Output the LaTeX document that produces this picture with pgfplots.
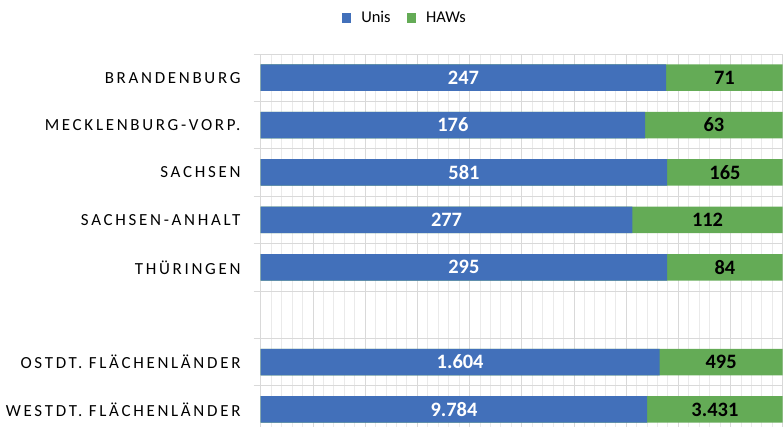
\documentclass[border=0pt]{standalone}
\usepackage{fontspec}
\setmainfont{Carlito}
\newfontfamily\labfont[LetterSpace=16]{Carlito}
\usepackage{pgfplots}
\usepackage{pgfplotstable}
\pgfplotsset{compat=1.18}
\definecolor{cblue}{HTML}{4270BA}
\definecolor{cgreen}{HTML}{64AB56}
\definecolor{gmaj}{HTML}{D9D9D9}
\definecolor{gmin}{HTML}{EAEAEA}
\pgfplotstableread{
y u h ul hl
0 247 71 247 71
1 176 63 176 63
2 581 165 581 165
3 277 112 277 112
4 295 84 295 84
6 1604 495 1.604 495
7 9784 3431 9.784 3.431
}\data
\begin{document}
\begin{tikzpicture}
\begin{axis}[
  at={(260.7bp,373bp)}, anchor=north west,
  scale only axis, width=522bp, height=379.2bp,
  xmin=0, xmax=1, ymin=-0.5, ymax=7.5, y dir=reverse,
  axis lines*=left, axis line style={draw=none},
  xtick={0,0.1,...,1}, minor x tick num=4, xticklabels={},
  xmajorgrids, xminorgrids,
  major x grid style={draw=gmaj, line width=0.8pt},
  minor x grid style={draw=gmin, line width=0.8pt},
  x tick style={draw=none},
  ytick={0,1,2,3,4,6,7},
  yticklabels={BRANDENBURG,MECKLENBURG-VORP.,SACHSEN,SACHSEN-ANHALT,TH\"URINGEN,OSTDT. FL\"ACHENL\"ANDER,WESTDT. FL\"ACHENL\"ANDER},
  yticklabel style={font=\labfont\fontsize{17}{20}\selectfont, anchor=east, inner sep=0pt, xshift=-20bp},
  minor ytick={-0.5,0.5,...,7.5}, yminorgrids,
  minor y grid style={draw=gmaj, line width=0.8pt},
  tick align=outside, major tick length=0pt, minor tick length=7bp,
  y tick style={draw=gmaj, line width=0.8pt},
  clip=false,
  legend columns=2,
  legend style={at={(0.276,1.095)}, anchor=center, draw=none, fill=none,
    font=\fontsize{16.5}{19}\selectfont, column sep=8bp,
    /tikz/every even column/.append style={column sep=14bp}},
  legend image code/.code={\fill[#1] (0bp,-4.7bp) rectangle (9.5bp,4.7bp);},
]
\addlegendimage{fill=cblue, draw=none}
\addlegendentry{Unis}
\addlegendimage{fill=cgreen, draw=none}
\addlegendentry{HAWs}
\addplot[xbar, bar width=26.5bp, bar shift=0pt, fill=cgreen, draw=none, forget plot]
  table[x expr={(\thisrow{u}+\thisrow{h})/(\thisrow{u}+\thisrow{h})}, y=y]{\data};
\addplot[xbar, bar width=26.5bp, bar shift=0pt, fill=cblue, draw=none, forget plot]
  table[x expr={\thisrow{u}/(\thisrow{u}+\thisrow{h})}, y=y]{\data};
\addplot[draw=none, mark=none, forget plot, nodes near coords, point meta=explicit symbolic,
  every node near coord/.append style={anchor=center, text=white, font=\bfseries\fontsize{20.5}{24}\selectfont}]
  table[x expr={0.5*\thisrow{u}/(\thisrow{u}+\thisrow{h})}, y=y, meta=ul]{\data};
\addplot[draw=none, mark=none, forget plot, nodes near coords, point meta=explicit symbolic,
  every node near coord/.append style={anchor=center, text=black, font=\bfseries\fontsize{20.5}{24}\selectfont}]
  table[x expr={(\thisrow{u}+0.5*\thisrow{h})/(\thisrow{u}+\thisrow{h})}, y=y, meta=hl]{\data};
\end{axis}
\pgfresetboundingbox
\useasboundingbox (0,0) rectangle (783bp,427bp);
\end{tikzpicture}
\end{document}
